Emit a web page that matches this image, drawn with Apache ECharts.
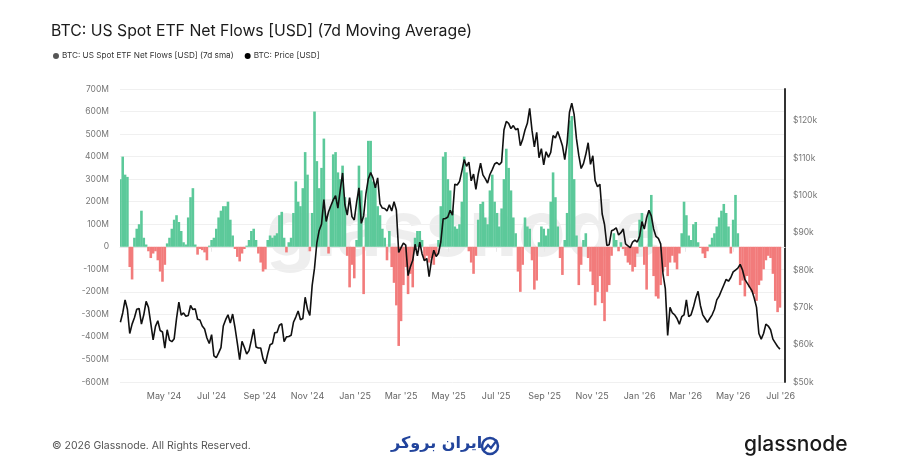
<!DOCTYPE html>
<html><head><meta charset="utf-8">
<script src="https://cdn.jsdelivr.net/npm/echarts@6/dist/echarts.min.js"></script>
<style>html,body{margin:0;padding:0;background:#fff}#c{width:900px;height:471px}</style>
</head><body><div id="c"></div>
<script>
// ---- data ----
const START_DATE = '2024-03-06';   // first sample
const AXIS_DAYS = 853;             // daily axis through 2026-07-06
const SAMPLE_STEP_DAYS = 3;        // one reading every 3 days

const FLOW_NAME = 'BTC: US Spot ETF Net Flows [USD] (7d sma)';
const PRICE_NAME = 'BTC: Price [USD]';

// 7d SMA net flows, millions USD
const FLOWS_M = [
  300, 400, 320, 310, -90, -145, 40, 80, 100, 160,
  40, 10, -20, -50, -30, -20, -60, -110, -155, -80,
  15, 40, 80, 120, 140, 110, 70, 20, 10, 130,
  220, 260, 10, -35, -10, -15, -25, -60, 5, 30,
  40, 80, 130, 160, 180, 180, 200, 120, 50, -10,
  -45, -65, -30, -10, 5, 30, 70, 80, 30, -30,
  -70, -110, -100, 30, 50, 40, 50, 60, 140, 155,
  40, -25, 20, 40, 150, 290, 200, 180, 260, 420,
  320, -20, 150, 600, 380, 260, 350, 480, 130, -30,
  180, 410, 420, 330, 300, 360, 220, -40, -180, -80,
  -140, 30, 360, 250, -210, 130, 470, 470, 290, 270,
  180, 140, 80, 40, -60, 70, -90, -160, -260, -440,
  -330, -170, -90, -210, -120, -180, 40, 70, 70, 30,
  -60, -40, -70, -50, -80, -40, 30, 180, 400, 420,
  300, 250, 160, 90, 80, 100, 200, 400, 330, -20,
  -70, -120, -40, 120, 190, 200, 130, 100, 250, 320,
  200, 150, 90, 170, 300, 435, 350, 250, 130, 60,
  -110, -200, -80, 130, 90, 80, -60, -190, -150, 20,
  90, 80, 50, 80, 200, 330, 220, 90, -50, -125,
  30, 150, 560, 580, 300, 50, -170, -80, 30, 60,
  -50, -110, -170, -260, -200, -130, -250, -330, -200, -170,
  -40, 60, 30, -20, 20, -10, -40, -70, -80, -110,
  -90, -30, 120, 150, -80, -190, 150, 230, -130, -220,
  -230, -170, -110, -90, -130, -70, -40, -70, -100, -30,
  60, 200, 140, 50, 30, 100, 110, 20, -5, -30,
  -50, -20, 10, 40, 60, 90, 130, 160, 190, 150,
  90, -30, 120, 230, 60, -170, -150, -220, -130, -180,
  -200, -210, -240, -170, -150, -100, -60, -40, -50, -120,
  -240, -290, -270
];

// BTC price, thousands USD
const PRICE_K = [
  66, 68.5, 72, 69.5, 63, 65.5, 67.2, 69.5, 69.7, 65.5,
  68, 71.6, 70, 65.7, 61.3, 64.9, 66.4, 63.8, 63.4, 59.1,
  64, 61.2, 60.8, 61.6, 67, 71.4, 67.9, 68.5, 67.6, 67.8,
  70.5, 69.4, 69.6, 66.8, 66.6, 65, 64.2, 61.8, 60.3, 62.7,
  57, 56.5, 57.8, 59.2, 65, 66.7, 68, 65.8, 68.2, 64.6,
  60.4, 56, 60.9, 59.3, 57.5, 58.4, 61.2, 64.2, 59.4, 59.1,
  59.1, 56.2, 54.9, 57.6, 60, 60.3, 63.2, 63.3, 65.2, 65.6,
  60.8, 62.1, 62.2, 62.5, 66, 67.4, 69, 66.7, 67, 72.7,
  69.5, 67.8, 75.9, 80.5, 87.3, 90.6, 92.3, 98.9, 93, 95.6,
  97.2, 98.8, 99.9, 96.6, 101.4, 106, 97.5, 94.7, 99.4, 94.3,
  93.4, 98.1, 102, 92.5, 94.5, 100.5, 104.4, 106.1, 104.7, 102,
  104.7, 97.7, 96.6, 96.5, 95.8, 97.5, 95.8, 98.3, 96.1, 84.7,
  86, 87.2, 86.7, 78.5, 80.9, 82.6, 86.9, 83.8, 87.5, 84.3,
  82.5, 83.1, 78.2, 82.6, 85.3, 83.6, 84.5, 87.5, 93.7, 93.8,
  94.2, 96, 94.7, 103, 102.8, 103.7, 106.5, 109.6, 107.8, 108.9,
  103.9, 105.7, 101.6, 105.7, 108.6, 105.5, 104.5, 103.3, 105.6, 106.9,
  108.4, 108.8, 108.2, 108.9, 117.5, 119.8, 119.3, 117.9, 118.7, 117.6,
  117.9, 113.3, 115, 117.5, 119.3, 123.3, 117.4, 113, 116.9, 110.1,
  112.5, 108.2, 111.7, 110.2, 111.5, 116, 115.4, 117.1, 115.3, 113.3,
  109.6, 114, 122.2, 124.7, 121.7, 115.2, 110.7, 107.2, 108.5, 111,
  114.1, 108.3, 110.6, 103.9, 102.3, 103, 95, 92.2, 86.6, 86.8,
  90.5, 90.8, 91.3, 89.4, 90, 91, 87, 86.5, 86, 87.5,
  88, 87.5, 89, 93, 91, 94, 96, 94.5, 91, 89,
  88.5, 87, 79, 75, 62.5, 70, 68.5, 68, 67, 65.5,
  67.5, 68, 72, 67.5, 68, 70, 72.5, 74.3, 70.5, 68,
  67, 66, 67, 68, 69.5, 72, 73, 74.5, 76, 77.5,
  77, 78, 79.5, 80, 80.5, 81.5, 80, 77.5, 76.5, 75.5,
  74.5, 72.5, 70, 63, 61.5, 63, 65.5, 65, 64, 61.5,
  60.5, 59.5, 58.8
];

const X_TICK_DATES = ['2024-05-01','2024-07-01','2024-09-01','2024-11-01','2025-01-01','2025-03-01','2025-05-01',
  '2025-07-01','2025-09-01','2025-11-01','2026-01-01','2026-03-01','2026-05-01','2026-07-01'];
const X_TICK_LABELS = ["May '24","Jul '24","Sep '24","Nov '24","Jan '25","Mar '25","May '25",
  "Jul '25","Sep '25","Nov '25","Jan '26","Mar '26","May '26","Jul '26"];

// ---- build ----
const DAY = 86400000;
const t0 = Date.parse(START_DATE + 'T00:00:00Z');
const iso = t => new Date(t).toISOString().slice(0, 10);
const categories = [];
for (let d = 0; d < AXIS_DAYS; d++) categories.push(iso(t0 + d * DAY));
const sampleDate = i => categories[i * SAMPLE_STEP_DAYS];
const labelMap = {};
X_TICK_DATES.forEach((d, i) => labelMap[d] = X_TICK_LABELS[i]);
const isTick = (idx, val) => labelMap[val] !== undefined;

const GREEN = '#5cc99a', RED = '#f27b7b';
const barData = FLOWS_M.map((v, i) => ({
  value: [sampleDate(i), v],
  itemStyle: { color: v >= 0 ? GREEN : RED }
}));
const lineData = PRICE_K.map((v, i) => [sampleDate(i), v]);

const chart = echarts.init(document.getElementById('c'), null, { renderer: 'canvas' });
chart.setOption({
  animation: false,
  backgroundColor: '#fff',
  title: {
    text: 'BTC: US Spot ETF Net Flows [USD] (7d Moving Average)',
    left: 46, top: 18,
    textStyle: { fontFamily: 'Inter', fontSize: 15.8, fontWeight: 'normal', color: '#1b1b1b' }
  },
  legend: {
    left: 48, top: 47, icon: 'circle', itemWidth: 6, itemHeight: 6, itemGap: 11,
    textStyle: { fontFamily: 'Inter', fontSize: 8.2, color: '#333', padding: [0, 0, 0, -2] },
    data: [
      { name: FLOW_NAME, itemStyle: { color: '#555' } },
      { name: PRICE_NAME, itemStyle: { color: '#000' } }
    ]
  },
  grid: { left: 120, right: 115, top: 89, bottom: 89, containLabel: false },
  xAxis: {
    type: 'category', data: categories, boundaryGap: true,
    axisLine: { show: true, lineStyle: { color: '#e8e8e8', width: 1 } },
    axisTick: { show: true, interval: isTick, alignWithLabel: true, length: 5, lineStyle: { color: '#e8e8e8' } },
    axisLabel: { interval: isTick, formatter: v => labelMap[v] || '', margin: 10,
      fontFamily: 'Inter', fontSize: 9, color: '#666' },
    splitLine: { show: false }
  },
  yAxis: [
    {
      type: 'value', position: 'left', min: -600, max: 700, interval: 100,
      axisLine: { show: false }, axisTick: { show: false },
      axisLabel: { formatter: v => v === 0 ? '0' : v + 'M', margin: 11,
        fontFamily: 'Inter', fontSize: 8.5, color: '#777' },
      splitLine: { show: true, lineStyle: { color: '#f0f0f0', width: 1 } }
    },
    {
      type: 'value', position: 'right', min: 50, max: 128.5, interval: 10,
      axisLine: { show: true, lineStyle: { color: '#333', width: 2 } },
      axisTick: { show: false },
      axisLabel: { formatter: v => '$' + v + 'k', margin: 8, showMaxLabel: false,
        fontFamily: 'Inter', fontSize: 8.5, color: '#777' },
      splitLine: { show: false }
    }
  ],
  series: [
    { name: FLOW_NAME, type: 'bar', yAxisIndex: 0, barWidth: 2.6, data: barData,
      itemStyle: { color: '#555' }, z: 2 },
    { name: PRICE_NAME, type: 'line', yAxisIndex: 1, data: lineData, showSymbol: false,
      lineStyle: { color: '#111', width: 1.6 }, itemStyle: { color: '#000' }, z: 3 }
  ],
  graphic: [
    { type: 'text', left: 266, top: 194, z: 0, silent: true,
      style: { text: 'glassnode', font: 'bold 78px Inter', fill: 'rgba(0,0,0,0.065)' } },
    { type: 'text', left: 52, top: 440, style: { text: '© 2026 Glassnode. All Rights Reserved.',
      font: '10.5px Inter', fill: '#555' } },
    { type: 'text', left: 391, top: 436, style: { text: 'ایران بروکر',
      font: 'bold 16px "DejaVu Sans"', fill: '#22449c' } },
    { type: 'circle', shape: { cx: 490, cy: 446, r: 8 }, style: { fill: 'none', stroke: '#22449c', lineWidth: 2.5 } },
    { type: 'polyline', shape: { points: [[484, 450], [488, 445], [491, 448], [497, 440]] },
      style: { fill: 'none', stroke: '#22449c', lineWidth: 2.2 } },
    { type: 'text', left: 744, top: 434, style: { text: 'glassnode',
      font: '500 21px Inter', fill: '#1a1a1a' } }
  ]
});
</script></body></html>
